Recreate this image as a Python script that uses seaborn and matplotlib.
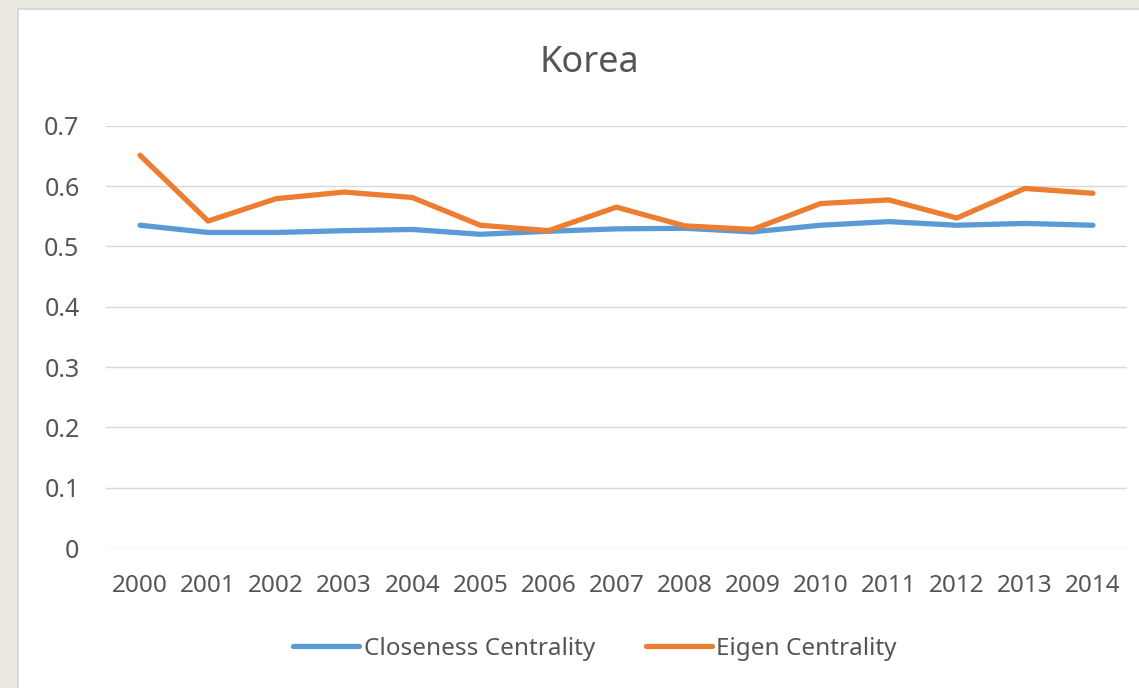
import matplotlib
matplotlib.use("Agg")
import matplotlib.pyplot as plt
from matplotlib.patches import Rectangle
from matplotlib.ticker import FuncFormatter, MultipleLocator
import pandas as pd
import seaborn as sns

# Yearly centrality scores for Korea
years = [2000, 2001, 2002, 2003, 2004, 2005, 2006, 2007,
         2008, 2009, 2010, 2011, 2012, 2013, 2014]
closeness = [0.535, 0.523, 0.523, 0.526, 0.528, 0.520, 0.525, 0.529,
             0.530, 0.524, 0.535, 0.541, 0.535, 0.538, 0.535]
eigen = [0.651, 0.542, 0.579, 0.590, 0.581, 0.535, 0.526, 0.565,
         0.534, 0.528, 0.571, 0.577, 0.547, 0.596, 0.588]
series_names = ["Closeness Centrality", "Eigen Centrality"]
title = "Korea"

df = pd.DataFrame({
    "year": years * 2,
    "value": closeness + eigen,
    "series": [series_names[0]] * len(years) + [series_names[1]] * len(years),
})

sns.set_theme(style="white")
plt.rcParams["font.family"] = ["Noto Sans", "DejaVu Sans"]

text_color = "#555555"
grid_color = "#D9D9D9"
palette = {series_names[0]: "#5B9BD5", series_names[1]: "#ED7D31"}

fig = plt.figure(figsize=(11.39, 6.88), dpi=100)
fig.patch.set_facecolor("#ECE8E2")

# white chart panel with a thin grey border
panel = Rectangle((18 / 1139, -0.01), 1.02, 1 - 9 / 688 + 0.01,
                  transform=fig.transFigure, facecolor="white",
                  edgecolor="#D4D4D4", linewidth=1.2, zorder=-10)
fig.patches.append(panel)

ax = fig.add_axes([106 / 1139, 1 - 548 / 688, (1127 - 106) / 1139, (548 - 125.7) / 688])
ax.set_facecolor("none")

sns.lineplot(data=df, x="year", y="value", hue="series", palette=palette,
             linewidth=3.8, ax=ax, legend=True, solid_capstyle="round")

ax.set_xlim(years[0] - 0.5, years[-1] + 0.5)
ax.set_ylim(0, 0.7)
ax.set_xticks(years)
ax.set_xticklabels([str(y) for y in years])
ax.yaxis.set_major_locator(MultipleLocator(0.1))
ax.yaxis.set_major_formatter(FuncFormatter(lambda v, _: f"{v:.1f}" if round(v, 3) != 0 else "0"))
ax.grid(axis="y", color=grid_color, linewidth=1.0)
ax.grid(axis="x", visible=False)
ax.set_axisbelow(True)
for s in ax.spines.values():
    s.set_visible(False)
ax.tick_params(axis="both", length=0, colors=text_color)
ax.tick_params(axis="y", labelsize=18, pad=19)
ax.tick_params(axis="x", labelsize=17.5, pad=19)
ax.set_xlabel("")
ax.set_ylabel("")

fig.text(589 / 1139, 1 - 63 / 688, title, ha="center", va="center",
         fontsize=26, color=text_color)

ax.legend_.remove()
handles, labels = ax.get_legend_handles_labels()
leg = fig.legend(handles, labels, loc="center", bbox_to_anchor=(595 / 1139, 1 - 649 / 688),
                 ncol=2, frameon=False, fontsize=17.5, handlelength=2.7,
                 handletextpad=0.2, columnspacing=2.1, labelcolor=text_color)
for line in leg.get_lines():
    line.set_linewidth(3.8)

fig.savefig("out.png", dpi=100, facecolor=fig.get_facecolor())
